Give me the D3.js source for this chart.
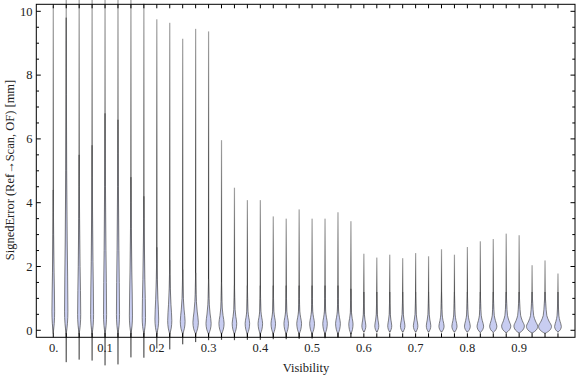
<!DOCTYPE html>
<html><head><meta charset="utf-8">
<script src="https://cdn.jsdelivr.net/npm/d3@7"></script>
<style>body{margin:0;background:#fff}svg{display:block}</style>
</head><body><svg id="c" width="576" height="377"></svg>
<script>
// ---- data ----
const visibility = [0,0.025,0.05,0.075,0.1,0.125,0.15,0.175,0.2,0.225,0.25,0.275,0.3,0.325,0.35,0.375,0.4,0.425,0.45,0.475,0.5,0.525,0.55,0.575,0.6,0.625,0.65,0.675,0.7,0.725,0.75,0.775,0.8,0.825,0.85,0.875,0.9,0.925,0.95,0.975];
const errMin = [-0.10,-1.00,-0.92,-0.95,-1.10,-1.07,-0.85,-0.86,-0.57,-0.60,-0.44,-0.37,-0.31,-0.30,-0.31,-0.30,-0.30,-0.28,-0.28,-0.27,-0.26,-0.25,-0.23,-0.12,-0.06,-0.06,-0.06,-0.06,-0.06,-0.06,-0.06,-0.06,-0.06,-0.07,-0.07,-0.08,-0.09,-0.09,-0.10,-0.06];
const errMax = [10.17,10.6,10.6,10.6,10.6,10.6,10.6,10.24,9.75,9.64,9.14,9.45,9.37,5.96,4.47,4.08,4.08,3.57,3.50,3.79,3.50,3.50,3.70,3.42,2.40,2.28,2.37,2.26,2.42,2.32,2.54,2.37,2.61,2.79,2.86,3.03,2.98,2.04,2.19,1.78];
const errMode = [0.6,0.6,0.5,0.5,0.5,0.5,0.45,0.4,0.35,0.3,0.28,0.25,0.22,0.22,0.22,0.22,0.22,0.22,0.22,0.22,0.22,0.22,0.22,0.2,0.14,0.14,0.14,0.14,0.14,0.14,0.13,0.13,0.13,0.13,0.13,0.13,0.13,0.12,0.12,0.12];
const peakDensity = [0.21,0.26,0.24,0.23,0.24,0.24,0.24,0.26,0.29,0.32,0.37,0.42,0.40,0.40,0.35,0.35,0.35,0.35,0.35,0.37,0.37,0.35,0.37,0.33,0.31,0.31,0.31,0.35,0.35,0.35,0.40,0.40,0.45,0.51,0.56,0.71,0.81,0.87,1.0,0.52];
const neckValue = [3.0,5.0,3.5,3.8,4.5,4.5,3.2,2.8,1.6,1.3,1.0,0.9,0.8,0.7,0.65,0.6,0.6,0.6,0.6,0.6,0.6,0.6,0.6,0.55,0.5,0.5,0.5,0.5,0.5,0.5,0.48,0.48,0.48,0.47,0.47,0.47,0.47,0.46,0.46,0.45];
const fillTop = [4.4,9.8,5.5,5.8,6.8,6.6,4.8,4.2,2.6,2.2,1.9,1.8,1.6,1.5,1.4,1.4,1.4,1.4,1.4,1.4,1.4,1.4,1.4,1.3,1.2,1.2,1.2,1.2,1.2,1.2,1.2,1.2,1.2,1.2,1.2,1.2,1.2,1.2,1.2,1.2];
const xTickValues = [0,0.1,0.2,0.3,0.4,0.5,0.6,0.7,0.8,0.9];
const xTickLabels = ["0.","0.1","0.2","0.3","0.4","0.5","0.6","0.7","0.8","0.9"];
const yTickValues = [0,2,4,6,8,10];
const yMinorValues = [0,0.5,1,1.5,2,2.5,3,3.5,4,4.5,5,5.5,6,6.5,7,7.5,8,8.5,9,9.5,10];

// ---- layout ----
const svg = d3.select("#c");
const L = 36.3, R = 575, T = 4.3, B = 337.3;
const x = d3.scaleLinear().domain([-0.0328, 1.0079]).range([L, R]);
const y = d3.scaleLinear().domain([-0.22, 10.22]).range([B, T]);
const halfBand = (x(visibility[1]) - x(visibility[0])) / 2;

const defs = svg.append("defs");
const g = defs.append("linearGradient").attr("id","tail").attr("x1",0).attr("y1",0).attr("x2",0).attr("y2",1);
g.append("stop").attr("offset","0%").attr("stop-color","#a2a2a2");
g.append("stop").attr("offset","40%").attr("stop-color","#606060");
g.append("stop").attr("offset","80%").attr("stop-color","#333");
g.append("stop").attr("offset","100%").attr("stop-color","#555");

const font = "'Liberation Serif','Times New Roman',serif";

// violins
const area = d3.area()
  .y(d => y(d[0]))
  .x0(d => d.cx - d[1] * halfBand)
  .x1(d => d.cx + d[1] * halfBand)
  .curve(d3.curveMonotoneY);

const vg = svg.append("g");
visibility.forEach((v, i) => {
  const cx = x(v);
  const lo = errMin[i], hi = errMax[i];
  vg.append("rect")
    .attr("x", cx - 0.6).attr("width", 1.2)
    .attr("y", y(hi)).attr("height", y(lo) - y(hi))
    .attr("fill", "url(#tail)");
  const fb = Math.max(lo, -0.12), m = errMode[i], dd = peakDensity[i], nk = neckValue[i], tp = fillTop[i];
  const knots = [[fb,0],[fb+0.45*(m-fb),0.72*dd],[m,dd],[m+0.5*(nk-m),0.6*dd],[nk,0.28*dd],[nk+0.5*(tp-nk),0.12*dd],[tp,0]];
  knots.forEach(k => k.cx = cx);
  vg.append("path")
    .attr("d", area(knots))
    .attr("fill", "#c8cdf1")
    .attr("stroke", "#4d4d4d")
    .attr("stroke-width", 0.7);
});

// frame
const fr = svg.append("g").attr("stroke","#000").attr("stroke-width",1).attr("fill","none");
fr.append("rect").attr("x",L).attr("y",T).attr("width",R-L).attr("height",B-T);
yMinorValues.forEach(v => {
  const len = yTickValues.includes(v) ? 4.5 : 2.7;
  fr.append("line").attr("x1",L).attr("x2",L+len).attr("y1",y(v)).attr("y2",y(v));
  fr.append("line").attr("x1",R).attr("x2",R-len).attr("y1",y(v)).attr("y2",y(v));
});
visibility.forEach(v => {
  fr.append("line").attr("x1",x(v)).attr("x2",x(v)).attr("y1",T).attr("y2",T+4);
  fr.append("line").attr("x1",x(v)).attr("x2",x(v)).attr("y1",B).attr("y2",B-4);
});

// tick labels
svg.append("g").selectAll("text").data(yTickValues).join("text")
  .attr("x", 32.5).attr("y", d => y(d) + 4.3)
  .attr("text-anchor","end").attr("font-family",font).attr("font-size",12.5).attr("fill","#222")
  .text(d => d);
svg.append("g").selectAll("text").data(xTickValues).join("text")
  .attr("x", (d,i) => x(d) + (i===0 ? 0.5 : 0)).attr("y", 351.5)
  .attr("text-anchor","middle").attr("font-family",font).attr("font-size",12.5).attr("fill","#222")
  .text((d,i) => xTickLabels[i]);

// axis titles
svg.append("text").attr("x", 306).attr("y", 371.5).attr("text-anchor","middle")
  .attr("font-family",font).attr("font-size",12.5).attr("fill","#222").text("Visibility");
svg.append("text").attr("transform","translate(13.5,170) rotate(-90)").attr("text-anchor","middle")
  .attr("font-family",font).attr("font-size",12.5).attr("fill","#222").text("SignedError (Ref\u2192Scan, OF) [mm]");
</script>
</body></html>
